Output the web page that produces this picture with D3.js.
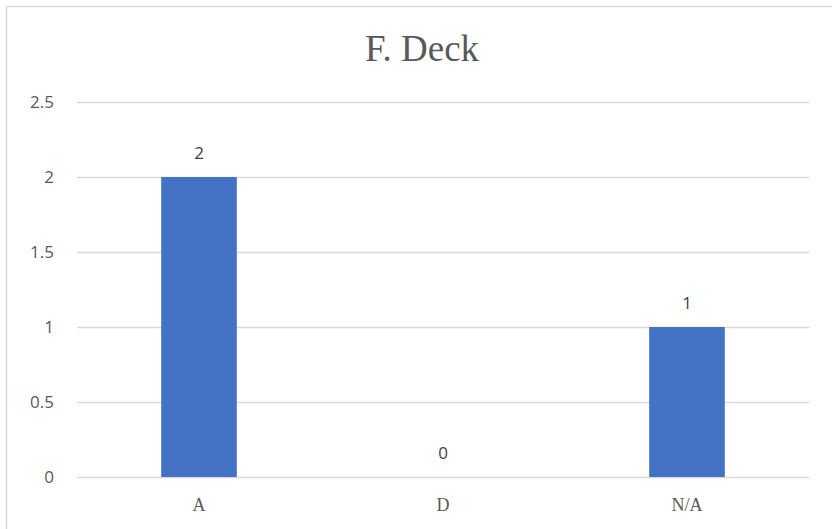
<!DOCTYPE html>
<html>
<head>
<meta charset="utf-8">
<script src="https://cdn.jsdelivr.net/npm/d3@7"></script>
<style>
  html, body { margin: 0; padding: 0; background: #fff; }
  svg { display: block; }
</style>
</head>
<body>
<svg id="chart" width="832" height="529"></svg>
<script>
// Chart data
const categories = ["A", "D", "N/A"];
const values = [2, 0, 1];
const yTicks = [0, 0.5, 1, 1.5, 2, 2.5];
const title = "F. Deck";

const svg = d3.select("#chart");
const plot = { left: 77, right: 809, top: 102, bottom: 477 };

// Chart frame (top and left edges fall inside the viewport)
svg.append("rect")
  .attr("x", 6.5).attr("y", 6.5)
  .attr("width", 900).attr("height", 600)
  .attr("fill", "#fff")
  .attr("stroke", "#d9d9d9")
  .attr("stroke-width", 1.5);

const x = d3.scaleBand()
  .domain(categories)
  .range([plot.left, plot.right])
  .paddingInner(0.69)
  .paddingOuter(0.345);

const y = d3.scaleLinear()
  .domain([0, 2.5])
  .range([plot.bottom, plot.top]);

// Gridlines
svg.append("g")
  .selectAll("line")
  .data(yTicks)
  .join("line")
  .attr("x1", plot.left).attr("x2", plot.right)
  .attr("y1", d => Math.round(y(d)) + 0.5)
  .attr("y2", d => Math.round(y(d)) + 0.5)
  .attr("stroke", "#d9d9d9")
  .attr("stroke-width", 1.5);

// Y-axis labels
const yAxis = d3.axisLeft(y).tickValues(yTicks).tickSize(0).tickPadding(0)
  .tickFormat(d => String(d));
const gy = svg.append("g")
  .attr("transform", `translate(54,0)`)
  .call(yAxis);
gy.select(".domain").remove();
gy.selectAll("text")
  .attr("font-family", "'Open Sans', 'Liberation Sans', sans-serif")
  .attr("font-size", 17)
  .attr("fill", "#595959")
  .attr("dy", "0.34em");

// Bars
svg.append("g")
  .selectAll("rect")
  .data(categories.map((c, i) => ({ c, v: values[i] })))
  .join("rect")
  .attr("x", d => x(d.c))
  .attr("width", x.bandwidth())
  .attr("y", d => y(d.v))
  .attr("height", d => y(0) - y(d.v))
  .attr("fill", "#4472c4");

// Value labels
svg.append("g")
  .selectAll("text")
  .data(categories.map((c, i) => ({ c, v: values[i] })))
  .join("text")
  .attr("x", d => x(d.c) + x.bandwidth() / 2)
  .attr("y", d => y(d.v) - 18)
  .attr("text-anchor", "middle")
  .attr("font-family", "'Open Sans', 'Liberation Sans', sans-serif")
  .attr("font-size", 17)
  .attr("fill", "#404040")
  .text(d => d.v);

// X-axis labels
const xAxis = d3.axisBottom(x).tickSize(0).tickPadding(0);
const gx = svg.append("g")
  .attr("transform", `translate(0,${plot.bottom})`)
  .call(xAxis);
gx.select(".domain").remove();
gx.selectAll("text")
  .attr("font-family", "'Liberation Serif', 'Times New Roman', serif")
  .attr("font-size", 18)
  .attr("fill", "#595959")
  .attr("dy", "0")
  .attr("y", 34);

// Title
svg.append("text")
  .attr("x", 422)
  .attr("y", 61)
  .attr("text-anchor", "middle")
  .attr("font-family", "'Liberation Serif', 'Times New Roman', serif")
  .attr("font-size", 37)
  .attr("fill", "#595959")
  .text(title);
</script>
</body>
</html>
